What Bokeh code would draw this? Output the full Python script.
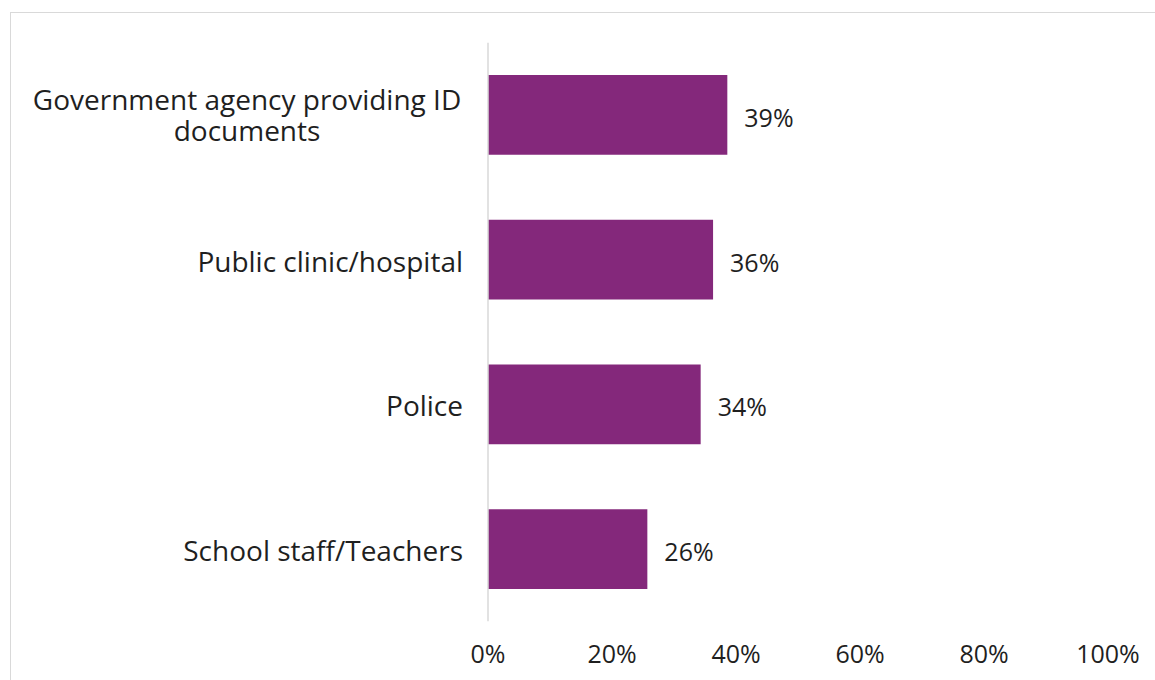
from bokeh.plotting import figure
from bokeh.models import FactorRange, Range1d, FixedTicker, Span, ColumnDataSource
from bokeh.core.properties import value
from bokeh.embed import file_html
from bokeh.resources import INLINE

categories = ["Government agency providing ID\ndocuments", "Public clinic/hospital", "Police", "School staff/Teachers"]
values = [38.6, 36.3, 34.3, 25.7]
tick_values = [0, 20, 40, 60, 80, 100]
tick_labels = ["0%", "20%", "40%", "60%", "80%", "100%"]

FONT = "Open Sans"
TEXT = "#1f1f1f"
BAR = "#84287B"
GREY = "#d9d9d9"
LABEL_GAP = -25          # px between category labels and the axis line
WRAP_HALF_WIDTH = 216    # half the width of the first line of a wrapped label

single = [c for c in categories if "\n" not in c]
wrapped = [c for c in categories if "\n" in c]

src = ColumnDataSource(dict(cat=categories, val=values, lab=[f"{round(v)}%" for v in values]))

p = figure(width=1155, height=680, output_backend="svg", toolbar_location=None,
           y_range=FactorRange(factors=list(reversed(categories))),
           x_range=Range1d(-78.63, 107.66),
           min_border_left=0, min_border_top=42, min_border_bottom=59, min_border_right=0)

p.border_fill_color = None
p.background_fill_color = None
p.styles = {
    "background": ("linear-gradient(#d9d9d9, #d9d9d9) 10px 12px / 100% 1px no-repeat, "
                   "linear-gradient(#d9d9d9, #d9d9d9) 10px 12px / 1px 100% no-repeat #ffffff"),
}

p.hbar(y="cat", right="val", left=0, height=0.55, source=src, color=BAR, line_color=None)
p.text(x="val", y="cat", text="lab", source=src, x_offset=17, y_offset=2, text_align="left",
       text_baseline="middle", text_font=value(FONT), text_font_size="25px", text_color=TEXT)

p.text(x=[0] * len(single), y=single, text=single, x_offset=LABEL_GAP, y_offset=1, text_align="right",
       text_baseline="middle", text_font=value(FONT), text_font_size="28px", text_color=TEXT)
p.text(x=[0] * len(wrapped), y=wrapped, text=wrapped, x_offset=LABEL_GAP - WRAP_HALF_WIDTH,
       text_align="center", text_baseline="middle", text_line_height=0.81,
       text_font=value(FONT), text_font_size="28px", text_color=TEXT)

p.add_layout(Span(location=0, dimension="height", line_color=GREY, line_width=1.5))

p.outline_line_color = None
p.xgrid.grid_line_color = None
p.ygrid.grid_line_color = None
p.yaxis.visible = False

p.xaxis.ticker = FixedTicker(ticks=tick_values)
p.xaxis.major_label_overrides = {t: l for t, l in zip(tick_values, tick_labels)}
p.xaxis.axis_line_color = None
p.xaxis.major_tick_line_color = None
p.xaxis.minor_tick_line_color = None
p.xaxis.major_tick_out = 0
p.xaxis.major_tick_in = 0
p.xaxis.major_label_standoff = 14
p.xaxis.major_label_text_font = FONT
p.xaxis.major_label_text_font_size = "25px"
p.xaxis.major_label_text_color = TEXT

open("out.html", "w").write(file_html(p, INLINE))
